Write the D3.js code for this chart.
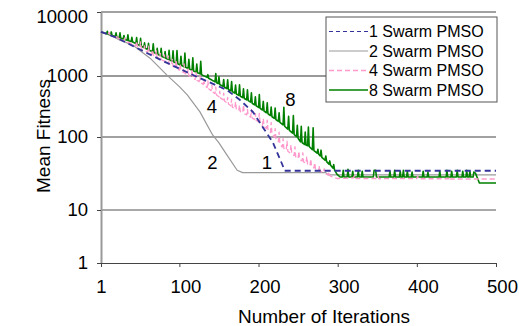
<!DOCTYPE html>
<html>
<head>
<meta charset="utf-8">
<script src="https://cdn.jsdelivr.net/npm/d3@7/dist/d3.min.js"></script>
<style>
  html, body { margin: 0; padding: 0; background: #fff; }
  svg { display: block; font-family: "Liberation Sans", Arial, sans-serif; }
</style>
</head>
<body>
<svg id="chart" width="519" height="326"></svg>
<script>
// Mean fitness per iteration for each swarm configuration: [iteration, fitness]
const swarm1 = [
  [1,4900],[20,4000],[40,3000],[80,1700],[120,1000],[160,590],[177,400],
  [193,257],[206,141],[218,85],[230,42],[233,34.5],[500,34.5]
];

const swarm2 = [
  [1,4900],[12,4400],[25,3630],[41,3040],[63,1900],[84,1040],[100,670],[110,490],
  [126,258],[142,108],[150,83],[160,57],[173,35],[180,32.5],[285,32.5],[288,30.2],[500,30.2]
];

const swarm4 = [
  [1,4900],[10,4440],[11,4800],[13,4300],[20,3980],[21,4400],[23,3850],[30,3565],[31,3950],[33,3450],[41,3160],
  [45,2970],[46,3520],[47,2880],[50,2750],[51,3400],[52,2665],[55,2545],[56,2945],[57,2465],
  [60,2355],[61,2920],[62,2285],[65,2180],[66,2580],[67,2115],[70,2018],[71,2500],[72,1955],
  [75,1867],[76,2260],[77,1810],[80,1726],[81,2140],[82,1673],[85,1594],[86,2066],[87,1541],
  [90,1465],[91,1813],[92,1416],[95,1346],[96,1786],[97,1300],[100,1236],[101,1531],[102,1195],
  [105,1135],[106,1542],[107,1097],[110,1042],[111,1291],[112,1009],[115,957],[116,1270],[117,925],
  [120,880],[121,1140],[122,851],[125,807],[126,1000],[127,776],[130,724],[131,891],[132,692],
  [135,646],[136,832],[137,617],[140,575],[141,708],[142,550],[145,513],[146,661],[147,490],
  [150,457],[151,562],[152,437],[155,407],[156,525],[157,389],[160,363],[161,447],[162,347],
  [165,324],[166,417],[167,309],[170,292],[171,379],[172,283],[175,270],[176,334],[177,261],
  [180,249],[181,338],[182,241],[185,230],[186,284],[187,222],[190,212],[191,281],[192,205],
  [195,195],[196,242],[197,189],[200,177],[201,244],[202,169],[205,156],[206,201],[207,149],
  [210,138],[211,189],[212,129],[215,118],[216,173],[217,110],[220,100],[221,137],[222,94],
  [225,86],[226,120],[227,80],[230,73],[231,95],[232,69.5],[235,66],[236,87.5],[237,63.7],
  [240,60.5],[241,78],[242,58.3],[245,55.5],[246,73.5],[247,53.5],[250,50.7],[251,64],[252,49],
  [255,46.9],[256,60.8],[257,45.5],[260,43.5],[261,54],[262,42.3],[265,40.5],[266,50.2],[267,39.3],
  [270,37.6],[271,44.6],[272,36.5],[276,34.7],[277,40.3],[278,33.9],[282,32.4],[283,36.7],[284,31.6],
  [288,30.2],[289,33.5],[290,29.5],[294,28.2],[300,27],
  [320,27.5],[321,29.5],[322,27],[350,27],[351,29],[352,26.8],[400,27],[401,29],[402,26.8],
  [440,26.8],[441,28.5],[442,26.6],[500,26.6]
];

const swarm8 = [
  [1,4900],[8,4590],[9,4990],[10,4510],[13,4390],[14,4880],[15,4300],[19,4150],[20,4720],[21,4070],
  [24,3960],[25,4720],[26,3890],[29,3790],[30,4300],[31,3720],[34,3610],[35,4400],[36,3550],
  [39,3450],[40,4020],[41,3390],[45,3210],[46,3980],[47,3120],[50,2990],[51,3890],[52,2910],
  [55,2790],[56,3300],[57,2710],[60,2600],[61,3230],[62,2530],[66,2390],[67,3180],[68,2330],
  [71,2230],[72,2710],[73,2170],[76,2080],[77,2700],[78,2020],[81,1940],[82,2410],[83,1890],
  [86,1815],[87,2530],[88,1770],[91,1700],[92,2480],[93,1660],[96,1590],[97,2500],[98,1550],
  [101,1490],[102,2040],[103,1455],[106,1400],[107,2290],[108,1365],[111,1310],[112,1830],[113,1280],
  [116,1230],[117,1920],[118,1200],[121,1150],[122,1535],[123,1120],[126,1080],[127,1690],[128,1050],
  [135,950],[136,1050],[137,920],[145,800],[146,1090],[147,775],[149,750],[150,970],[151,725],
  [155,677],[156,877],[157,655],[160,622],[161,863],[162,601],[165,571],[166,812],[167,552],
  [170,525],[171,713],[172,507],[175,482],[176,718],[177,466],[180,443],[181,615],[182,428],
  [185,407],[186,592],[187,394],[190,373],[191,528],[192,358],[195,337],[196,457],[197,324],
  [200,305],[201,497],[202,294],[205,277],[206,383],[207,266],[210,250],[211,363],[212,240],
  [215,225],[216,311],[217,215],[220,202],[221,299],[222,193],[225,181],[226,250],[227,173],
  [231,158],[232,308],[233,150],[237,135],[238,219],[239,128],[243,116],[244,225],[245,110],
  [248,101],[249,156],[250,96],[253,86],[254,150],[255,84],[258,79],[259,120],[260,77.5],
  [262,76],[263,146],[264,74],[268,67],[269,141],[270,65],[274,60],[275,68],[276,58],
  [278,55],[279,66],[280,52.5],[284,48],[285,55],[286,46],[289,42.5],[290,47],[291,41],
  [294,37.5],[295,42],[296,35.5],[299,31],[303,28.3],
  [306,28.3],[307,35],[308,28.3],[312,28.3],[313,36],[314,28.3],[318,28.3],[319,34],[320,28.3],
  [325,28.3],[326,35],[327,28.3],[330,28.3],[331,34],[332,28.3],[345,28.3],[346,35],[348,35],[349,28.3],
  [365,28.3],[366,34],[367,28.3],[371,28.3],[372,35],[373,28.3],[378,28.3],[379,34],[380,28.3],
  [382,28.3],[383,35],[384,28.3],[387,28.3],[388,34],[389,28.3],[393,28.3],[394,33],[395,28.3],
  [407,28.3],[408,34],[409,28.3],[413,28.3],[414,33],[415,28.3],[428,28.3],[429,34],[430,28.3],
  [437,28.3],[438,35],[439,28.3],[443,28.3],[444,34],[445,28.3],[450,28.3],[451,35],[452,28.3],
  [457,28.3],[458,34],[459,28.3],[462,28.3],[463,35],[464,28.3],[466,28.3],[467,34],[468,28.3],
  [471,28.3],[472,33],[474,32],[476,28.3],[479,23.4],[500,23.4]
];

const xTicks = [1, 100, 200, 300, 400, 500];
const yTicks = [1, 10, 100, 1000, 10000];
const seriesNames = ["1 Swarm PMSO", "2 Swarm PMSO", "4 Swarm PMSO", "8 Swarm PMSO"];
const curveLabels = ["4", "8", "2", "1"];

const svg = d3.select("#chart");

const x = d3.scaleLinear().domain([1, 500]).range([101, 496]);
// log axis, one range stop per decade
const y = d3.scaleLog().domain(yTicks).range([263, 210, 137, 76, 12]);

// horizontal gridlines
const gridStyle = {
  10: { c: "#a8a8a8", w: 2 },
  100: { c: "#444", w: 1 },
  1000: { c: "#999", w: 2 },
  10000: { c: "#444", w: 1 }
};
svg.append("g").selectAll("line").data(yTicks.slice(1)).join("line")
  .attr("x1", x(1)).attr("x2", x(500))
  .attr("y1", d => y(d)).attr("y2", d => y(d))
  .attr("stroke", d => gridStyle[d].c)
  .attr("stroke-width", d => gridStyle[d].w);

// axes
const yAxis = svg.append("g").attr("transform", `translate(${x(1)},0)`)
  .call(d3.axisLeft(y).tickValues(yTicks).tickFormat(d3.format("d")).tickSize(4).tickSizeOuter(0).tickPadding(9));
yAxis.select(".domain").attr("stroke", "#999").attr("stroke-width", 2);
yAxis.selectAll(".tick line").attr("stroke", "#444");
yAxis.selectAll(".tick text").attr("font-size", 18.5).attr("fill", "#000")
  .attr("font-family", "Liberation Sans, Arial, sans-serif")
  .attr("dy", d => d === 10000 ? "0.55em" : "0.32em");

const xAxis = svg.append("g").attr("transform", `translate(0,${y(1)})`)
  .call(d3.axisBottom(x).tickValues(xTicks).tickFormat(d3.format("d")).tickSize(4).tickSizeOuter(0).tickPadding(13));
xAxis.select(".domain").attr("stroke", "#444");
xAxis.selectAll(".tick line").attr("stroke", "#444");
xAxis.selectAll(".tick text").attr("font-size", 18.5).attr("fill", "#000")
  .attr("font-family", "Liberation Sans, Arial, sans-serif")
  .attr("dx", d => d === 1 ? 0 : 6);

// series
const line = d3.line().x(d => x(d[0])).y(d => y(d[1]));
const styles = [
  { data: swarm1, color: "#33339a", width: 1.8, dash: "6,4" },
  { data: swarm2, color: "#999999", width: 1.2, dash: null },
  { data: swarm4, color: "#ff99cc", width: 1.3, dash: "5,3" },
  { data: swarm8, color: "#008000", width: 1.6, dash: null }
];
const drawOrder = [1, 3, 2, 0];
drawOrder.forEach(i => {
  const s = styles[i];
  svg.append("path").datum(s.data)
    .attr("fill", "none")
    .attr("stroke", s.color)
    .attr("stroke-width", s.width)
    .attr("stroke-dasharray", s.dash)
    .attr("stroke-linejoin", "round")
    .attr("d", line);
});

// curve labels
const labelPos = [[212, 113], [290.5, 105.5], [212.5, 168.5], [267, 168.5]];
svg.append("g").selectAll("text").data(curveLabels).join("text")
  .attr("x", (d, i) => labelPos[i][0]).attr("y", (d, i) => labelPos[i][1])
  .attr("text-anchor", "middle").attr("font-size", 18.5).attr("fill", "#000")
  .text(d => d);

// axis titles
svg.append("text")
  .attr("transform", "translate(50,136) rotate(-90)")
  .attr("text-anchor", "middle").attr("font-size", 19).attr("fill", "#000")
  .text("Mean Fitness");
svg.append("text")
  .attr("x", 324).attr("y", 323)
  .attr("text-anchor", "middle").attr("font-size", 19).attr("fill", "#000")
  .text("Number of Iterations");

// legend
const legend = svg.append("g");
legend.append("rect")
  .attr("x", 326).attr("y", 17).attr("width", 171).attr("height", 85)
  .attr("fill", "#fff").attr("stroke", "#555").attr("stroke-width", 1);
const rowY = [31.5, 51, 70.5, 90];
seriesNames.forEach((name, i) => {
  const s = styles[i];
  legend.append("line")
    .attr("x1", 329).attr("x2", 368).attr("y1", rowY[i]).attr("y2", rowY[i])
    .attr("stroke", s.color).attr("stroke-width", i === 0 ? 1.2 : s.width)
    .attr("stroke-dasharray", i === 0 ? "4,3" : s.dash);
  legend.append("text")
    .attr("x", 369).attr("y", rowY[i] + 5.5)
    .attr("font-size", 16).attr("fill", "#000")
    .text(name);
});
</script>
</body>
</html>
